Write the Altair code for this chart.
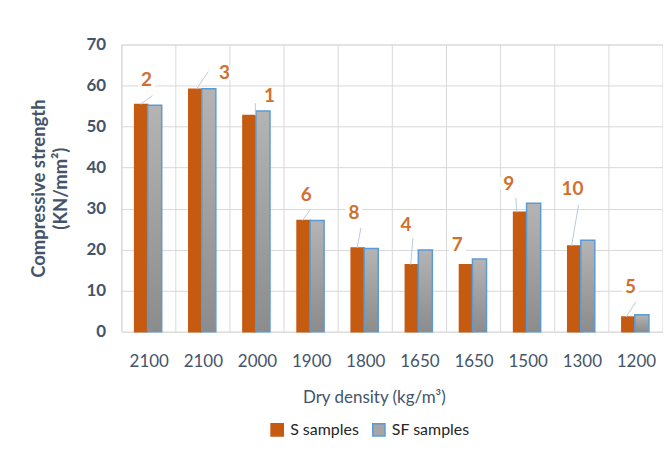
import json
import altair as alt
import pandas as pd

densities = ["2100", "2100", "2000", "1900", "1800", "1650", "1650", "1500", "1300", "1200"]
s_values = [55.4, 59.1, 52.7, 27.1, 20.4, 16.3, 16.3, 29.1, 20.9, 3.6]
sf_values = [55.2, 59.2, 53.8, 27.1, 20.3, 19.9, 17.7, 31.3, 22.3, 4.1]
sample_ids = ["2", "3", "1", "6", "8", "4", "7", "9", "10", "5"]
label_dx = [-0.04, 0.40, 0.23, -0.09, -0.21, -0.25, -0.30, -0.35, -0.17, -0.10]
label_y = [61.3, 63.0, 57.4, 33.3, 28.9, 26.0, 21.1, 36.1, 34.7, 10.8]
lead_dx0 = [-0.15, -0.12, -0.03, -0.16, -0.15, -0.16, None, -0.20, -0.19, -0.18]
lead_dx1 = [0.07, 0.10, -0.03, -0.02, -0.08, -0.12, None, -0.22, -0.06, 0.00]
lead_y1 = [57.6, 63.4, 55.7, 29.7, 25.3, 22.8, None, 32.6, 30.9, 7.3]

ORANGE = "#C55A11"
BLUE = "#5B9BD5"
TEXT = "#44546A"
GRID = "#D9D9D9"
FONT = "Lato"

n = len(densities)
rows = []
for i in range(n):
    rows.append({"idx": i, "series": "S samples", "value": s_values[i], "x0": i - 0.26, "x1": i - 0.02})
    rows.append({"idx": i, "series": "SF samples", "value": sf_values[i], "x0": i - 0.02, "x1": i + 0.24})
bars = pd.DataFrame(rows)

labels = pd.DataFrame({
    "lx": [i + d for i, d in enumerate(label_dx)],
    "ly": label_y,
    "txt": sample_ids,
})

lead = pd.DataFrame({
    "ax": [i + d if d is not None else None for i, d in enumerate(lead_dx0)],
    "ay": s_values,
    "bx": [i + d if d is not None else None for i, d in enumerate(lead_dx1)],
    "by": lead_y1,
}).dropna()

grid = pd.DataFrame({"gx": [i - 0.5 for i in range(n + 1)]})

xscale = alt.Scale(domain=[-0.5, n - 0.5], nice=False, zero=False)
yscale = alt.Scale(domain=[0, 70], nice=False)

label_expr = json.dumps(densities) + "[datum.value]"

xaxis = alt.Axis(
    values=list(range(n)), labelExpr=label_expr, grid=False, ticks=False, domain=False,
    labelFontSize=17, labelColor=TEXT, labelFont=FONT, labelPadding=22,
    title="Dry density (kg/m³)", titleFontSize=17, titleFont=FONT, titleColor=TEXT,
    titleFontWeight="normal", titleX=253, titleY=66, titleBaseline="middle", titleAlign="center",
)
yaxis = alt.Axis(
    values=list(range(0, 71, 10)), grid=True, gridColor=GRID, ticks=False, domain=False,
    labelFontSize=17, labelFontWeight="bold", labelColor=TEXT, labelFont=FONT, labelPadding=16,
    title=["Compressive strength", "(KN/mm²)"], titleFontSize=18.5, titleFont=FONT,
    titleColor=TEXT, titleFontWeight="bold", titlePadding=16, titleLineHeight=22,
)

vgrid = alt.Chart(grid).mark_rule(color=GRID, strokeWidth=1).encode(
    x=alt.X("gx:Q", scale=xscale, axis=xaxis),
    y=alt.datum(0, scale=yscale, axis=yaxis),
    y2=alt.datum(70),
)

s_bars = alt.Chart(bars).mark_bar(strokeWidth=1.5).encode(
    x=alt.X("x0:Q", scale=xscale),
    x2="x1:Q",
    y=alt.Y("value:Q", scale=yscale),
    y2=alt.datum(0),
    color=alt.Color(
        "series:N",
        scale=alt.Scale(domain=["S samples", "SF samples"], range=[ORANGE, "#A6A6A6"]),
        legend=alt.Legend(
            title=None, orient="none", legendX=148, legendY=378, direction="horizontal",
            symbolType="square", symbolSize=150, symbolStrokeWidth=1.5,
            labelFontSize=16, labelFont=FONT, labelColor="#262626", columnPadding=10,
            labelOffset=5,
        ),
    ),
    stroke=alt.Stroke(
        "series:N",
        scale=alt.Scale(domain=["S samples", "SF samples"], range=[ORANGE, BLUE]),
        legend=None,
    ),
).transform_filter(alt.datum.series == "S samples")

sf_bars = alt.Chart(bars).mark_bar(
    stroke=BLUE, strokeWidth=1.5,
    color=alt.Gradient(
        gradient="linear",
        stops=[alt.GradientStop(color="#B4B4B4", offset=0), alt.GradientStop(color="#8C8C8C", offset=1)],
        x1=0, x2=0, y1=0, y2=1,
    ),
).encode(
    x=alt.X("x0:Q", scale=xscale),
    x2="x1:Q",
    y=alt.Y("value:Q", scale=yscale),
    y2=alt.datum(0),
).transform_filter(alt.datum.series == "SF samples")

leaders = alt.Chart(lead).mark_rule(color="#BFC9D9", strokeWidth=1).encode(
    x=alt.X("ax:Q", scale=xscale),
    y=alt.Y("ay:Q", scale=yscale),
    x2="bx:Q",
    y2="by:Q",
)

boxes = alt.Chart(labels).mark_point(
    shape="M-1.3,-1H1.3V1H-1.3Z", filled=True, color="white", opacity=1, size=170
).encode(
    x=alt.X("lx:Q", scale=xscale),
    y=alt.Y("ly:Q", scale=yscale),
)

texts = alt.Chart(labels).mark_text(
    font=FONT, fontSize=19, fontWeight="bold", color="#D0702F", baseline="middle", align="center"
).encode(
    x=alt.X("lx:Q", scale=xscale),
    y=alt.Y("ly:Q", scale=yscale),
    text="txt:N",
)

chart = alt.layer(vgrid, s_bars, sf_bars, leaders, boxes, texts).properties(
    width=543, height=288,
    autosize=alt.AutoSizeParams(type="none"),
    padding={"left": 114, "top": 36, "right": 0, "bottom": 112},
).configure_view(stroke=None).configure(background="white")

chart.save("out.html", embed_options={"renderer": "svg", "actions": False})
